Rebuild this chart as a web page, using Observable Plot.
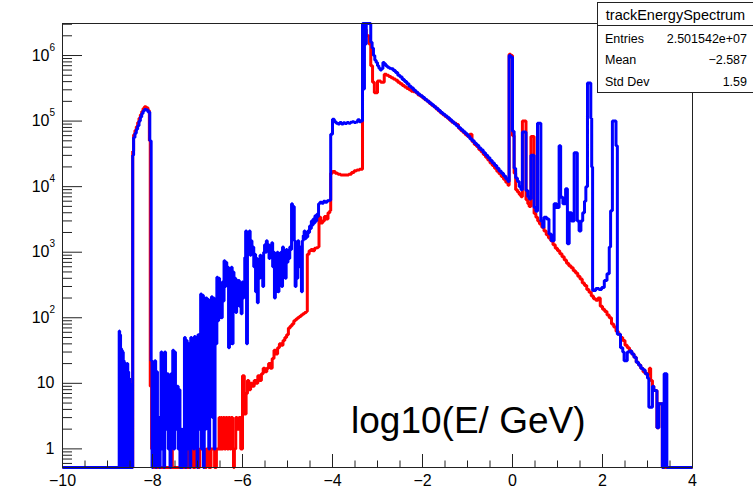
<!DOCTYPE html>
<html><head><meta charset="utf-8">
<script src="https://cdn.jsdelivr.net/npm/d3@7"></script>
<script src="https://cdn.jsdelivr.net/npm/@observablehq/plot@0.6"></script>
<style>
body{margin:0;background:#fff}
#chart{position:relative;width:753px;height:493px;overflow:hidden}
svg{font-family:"Liberation Sans",Arial,Helvetica,sans-serif}
</style>
</head><body><div id="chart"></div>
<script>
// ---- histogram steps: [bin low edge, counts] (step-after) ----
const blueSteps = [
[-10,0],[-8.74,63],[-8.73,0],[-8.72,55],[-8.71,0],[-8.70,34],[-8.69,0],[-8.68,32],[-8.67,0],[-8.66,30],[-8.65,0],
[-8.64,22],[-8.63,0],[-8.62,20],[-8.61,0],[-8.60,20],[-8.59,0],[-8.58,19],[-8.57,0],[-8.56,20],[-8.55,0],
[-8.54,15],[-8.53,0],[-8.52,12],[-8.51,0],[-8.50,10],[-8.49,0],[-8.48,8],[-8.47,0],
[-8.44,3e4],[-8.42,5.6e4],[-8.39,6.5e4],[-8.36,7.5e4],[-8.33,8.5e4],[-8.30,1.0e5],[-8.27,1.15e5],[-8.24,1.3e5],
[-8.21,1.42e5],[-8.18,1.5e5],[-8.14,1.48e5],[-8.10,1.38e5],[-8.06,5e4],[-8.03,22],
[-8.01,0],[-7.99,20],[-7.97,2],[-7.95,22],[-7.93,0],[-7.91,15],[-7.89,1],[-7.87,3],[-7.85,0],[-7.83,2],[-7.81,30],
[-7.79,1],[-7.77,28],[-7.75,0],[-7.73,30],[-7.71,2],[-7.69,4],[-7.67,14],[-7.65,1],[-7.63,12],[-7.61,0],[-7.59,14],
[-7.57,3],[-7.55,32],[-7.53,1],[-7.51,30],[-7.49,2],[-7.47,6],[-7.45,9],[-7.43,1],[-7.41,8],[-7.39,0],[-7.37,2],
[-7.35,0],[-7.33,2],[-7.31,1],[-7.29,50],[-7.27,0],[-7.25,45],[-7.23,1],[-7.21,3],[-7.19,40],[-7.17,0],[-7.15,50],
[-7.13,2],[-7.11,48],[-7.09,1],[-7.07,52],[-7.05,5],[-7.03,50],[-7.01,0],[-6.99,55],[-6.97,2],[-6.95,48],[-6.93,230],
[-6.91,1],[-6.89,220],[-6.87,0],[-6.85,200],[-6.83,2],[-6.81,200],[-6.79,10],[-6.77,190],[-6.75,1],[-6.73,180],
[-6.71,5],[-6.69,210],[-6.67,3],[-6.65,200],[-6.63,1],[-6.61,150],[-6.59,40],[-6.57,415],[-6.55,90],[-6.53,400],
[-6.51,150],[-6.49,300],[-6.47,100],[-6.45,350],[-6.43,180],[-6.41,740],[-6.39,300],[-6.37,700],[-6.35,600],
[-6.33,590],[-6.31,35],[-6.29,550],[-6.27,300],[-6.25,590],[-6.23,40],[-6.21,500],[-6.19,250],[-6.17,400],
[-6.15,120],[-6.13,370],[-6.11,200],[-6.09,370],[-6.07,150],[-6.05,300],[-6.03,115],[-6.01,350],[-5.99,200],
[-5.97,350],[-5.95,830],[-5.93,2100],[-5.91,40],[-5.89,2000],[-5.87,1500],[-5.85,2100],[-5.83,900],[-5.81,1500],
[-5.79,1050],[-5.77,1200],[-5.75,600],[-5.73,930],[-5.71,250],[-5.69,800],[-5.67,170],[-5.65,700],[-5.63,400],
[-5.61,900],[-5.59,500],[-5.57,650],[-5.55,300],[-5.53,1000],[-5.51,1300],[-5.49,1000],[-5.47,1500],[-5.45,1100],
[-5.43,1300],[-5.41,800],[-5.39,1200],[-5.37,1000],[-5.35,1400],[-5.33,600],[-5.31,1000],[-5.29,200],[-5.27,900],
[-5.25,400],[-5.23,1000],[-5.21,250],[-5.19,700],[-5.17,500],[-5.15,1000],[-5.13,300],[-5.11,1200],[-5.09,600],
[-5.07,900],[-5.05,400],[-5.03,1100],[-5.01,700],[-4.99,1000],[-4.97,800],[-4.95,1200],[-4.93,1100],[-4.91,5500],
[-4.89,5000],[-4.85,1500],[-4.83,300],[-4.81,1200],[-4.79,400],[-4.77,1500],[-4.75,600],[-4.73,1200],[-4.71,800],
[-4.69,250],[-4.67,1500],[-4.65,1800],[-4.63,2100],[-4.61,1600],[-4.59,2000],[-4.57,1700],[-4.55,2100],[-4.53,2000],
[-4.51,2500],[-4.49,2300],[-4.47,3000],[-4.45,2600],[-4.43,3200],[-4.41,2800],[-4.39,3600],[-4.37,3000],[-4.35,3800],
[-4.33,3500],[-4.31,5500],[-4.28,5800],[-4.24,5600],[-4.20,6000],[-4.16,5800],[-4.12,6100],[-4.08,6200],
[-4.04,6.3e4],[-4.00,1.07e5],[-3.96,9.8e4],[-3.92,9.3e4],[-3.88,9.0e4],[-3.84,9.5e4],[-3.80,9.0e4],[-3.76,9.4e4],
[-3.72,9.2e4],[-3.68,9.5e4],[-3.64,9.3e4],[-3.60,9.6e4],[-3.56,9.8e4],[-3.52,9.5e4],[-3.48,9.7e4],[-3.44,1.05e5],
[-3.40,9.8e4],[-3.37,1.0e5],
[-3.333,4e6],[-3.31,3.1e5],[-3.29,4e6],[-3.27,1.5e6],[-3.25,4e6],[-3.22,4e6],[-3.18,3.5e6],[-3.15,1.6e6],
[-3.12,1.3e6],[-3.09,1.0e6],[-3.06,8.5e5],[-3.03,7.8e5],[-3.00,7.0e5],[-2.97,6.4e5],[-2.94,6.0e5],[-2.91,6.3e5],
[-2.88,7.8e5],[-2.85,7.5e5],[-2.82,7.0e5],[-2.78,6.6e5],[-2.74,6.4e5],
[-2.70,6.3e5],[-2.65,5.9e5],[-2.60,5.5e5],[-2.55,5.0e5],[-2.50,4.7e5],[-2.45,4.3e5],[-2.40,4.0e5],[-2.35,3.7e5],
[-2.30,3.4e5],[-2.25,3.2e5],[-2.20,2.95e5],[-2.15,2.75e5],[-2.10,2.57e5],[-2.05,2.43e5],[-2.00,2.29e5],[-1.95,2.14e5],
[-1.90,2.0e5],[-1.85,1.88e5],[-1.80,1.78e5],[-1.75,1.66e5],[-1.70,1.55e5],[-1.65,1.45e5],[-1.60,1.35e5],[-1.55,1.27e5],
[-1.50,1.2e5],[-1.45,1.12e5],[-1.40,1.05e5],[-1.35,9.8e4],[-1.30,9.1e4],[-1.25,8.5e4],[-1.20,7.9e4],[-1.15,7.4e4],
[-1.10,6.9e4],[-1.05,6.4e4],[-1.00,5.9e4],[-0.95,5.4e4],[-0.90,5.0e4],[-0.85,4.6e4],[-0.80,4.27e4],[-0.75,3.9e4],
[-0.70,3.63e4],[-0.65,3.3e4],[-0.60,3.0e4],[-0.55,2.75e4],[-0.50,2.5e4],[-0.45,2.3e4],[-0.40,2.1e4],[-0.35,1.9e4],
[-0.30,1.74e4],[-0.25,1.6e4],[-0.20,1.45e4],[-0.15,1.32e4],[-0.10,1.2e4],
[-0.075,1.0e6],[-0.04,9.5e5],[0.0,7e4],[0.036,1.9e4],[0.07,1.35e4],[0.11,1.2e4],[0.15,1.0e4],[0.19,9e3],
[0.22,6.8e4],[0.30,8.7e3],[0.34,7e3],[0.37,6.5e3],[0.41,3.0e4],[0.48,4.8e3],[0.52,4.2e3],[0.555,9.3e4],
[0.63,3.0e3],[0.67,2.4e3],[0.70,3.4e3],[0.76,3.2e3],[0.81,1.9e3],[0.86,1.5e3],[0.925,5.5e3],[0.98,4.8e3],
[1.036,4.2e4],[1.07,6.9e3],[1.12,5.5e3],[1.18,9.3e3],[1.22,1.35e3],[1.26,4e3],[1.31,3e3],[1.37,3.3e4],
[1.44,3e3],[1.48,2.1e3],[1.52,3e3],[1.56,4e3],[1.60,6e3],[1.63,1e4],[1.666,3.8e5],[1.74,1.1e5],[1.76,2e4],
[1.78,260],[1.85,280],[1.92,270],[1.98,290],[2.04,370],[2.10,470],[2.15,1.2e3],[2.18,4.3e3],[2.22,1e5],[2.30,4.2e4],
[2.33,56],[2.40,35],[2.45,30],[2.48,22],[2.55,30],[2.60,31],[2.65,28],[2.70,25],[2.75,21],[2.80,19],[2.85,17],
[2.90,16],[2.95,14],[3.00,12],[3.03,4.3],[3.11,9],[3.14,7.8],[3.21,2.1],[3.25,4.9],[3.33,0],[3.37,14],[3.43,0],[4,0]
];
const redSteps = [
[-10,0],[-8.44,3.5e4],[-8.42,6.2e4],[-8.39,7.2e4],[-8.36,8.2e4],[-8.33,9.5e4],[-8.30,1.1e5],[-8.27,1.25e5],
[-8.24,1.4e5],[-8.21,1.55e5],[-8.18,1.65e5],[-8.14,1.6e5],[-8.10,1.45e5],[-8.07,5e4],[-8.05,9],[-8.02,1],[-7.98,0],
[-7.90,1],[-7.86,0],[-7.60,1],[-7.56,0],[-7.20,1],[-7.17,0],[-7.15,1],[-7.10,0],[-7.05,1],[-7.00,0],[-6.95,1],
[-6.91,3],[-6.88,1],[-6.84,0],[-6.80,1],[-6.75,0],[-6.70,1],[-6.62,0],[-6.58,1],[-6.52,3],[-6.50,1],[-6.48,3],
[-6.46,1],[-6.43,3],[-6.40,1],[-6.37,3],[-6.34,1],[-6.31,3],[-6.28,1],[-6.25,3],[-6.22,1],[-6.20,0],[-6.18,1],
[-6.15,3],[-6.12,2],[-6.08,3],[-6.04,1],[-6.00,13],[-5.96,3.4],[-5.92,7],[-5.89,11],[-5.86,8],[-5.82,10],[-5.78,9],
[-5.74,11],[-5.70,10],[-5.66,13],[-5.62,11],[-5.58,14],[-5.54,17],[-5.50,15],[-5.46,17],[-5.42,20],[-5.38,17],
[-5.34,24],[-5.30,32],[-5.26,28],[-5.22,35],[-5.18,40],[-5.14,38],[-5.10,45],[-5.06,50],[-5.02,55],[-4.98,70],
[-4.94,75],[-4.90,80],[-4.86,90],[-4.82,95],[-4.78,100],[-4.74,105],[-4.70,110],[-4.66,115],[-4.62,120],[-4.58,125],
[-4.56,930],[-4.52,1050],[-4.48,1100],[-4.44,1050],[-4.40,1150],[-4.36,1170],[-4.32,1200],[-4.30,3400],[-4.26,2800],
[-4.22,3000],[-4.18,3500],[-4.14,3200],[-4.10,4000],[-4.06,4300],[-4.04,1.6e4],[-4.00,1.7e4],[-3.94,1.6e4],
[-3.88,1.55e4],[-3.82,1.5e4],[-3.76,1.5e4],[-3.70,1.5e4],[-3.64,1.55e4],[-3.58,1.65e4],[-3.52,1.75e4],[-3.46,1.8e4],
[-3.40,1.85e4],[-3.333,1.5e6],[-3.30,2.5e6],[-3.25,2.0e6],[-3.19,1.5e6],[-3.15,7e5],[-3.11,3.9e5],[-3.07,2.7e5],
[-3.00,4.1e5],[-2.93,3.9e5],[-2.85,5.2e5],[-2.80,5.0e5],[-2.75,4.8e5],[-2.70,4.6e5],[-2.65,4.4e5],[-2.60,4.2e5],
[-2.55,3.9e5],[-2.50,3.7e5],[-2.45,3.5e5],[-2.40,3.3e5],[-2.35,3.15e5],[-2.30,3.0e5],[-2.25,2.85e5],[-2.20,2.8e5],
[-2.15,2.7e5],[-2.10,2.5e5],[-2.05,2.4e5],[-2.00,2.25e5],[-1.95,2.12e5],[-1.90,2.0e5],[-1.85,1.86e5],[-1.80,1.75e5],
[-1.75,1.65e5],[-1.70,1.53e5],[-1.65,1.43e5],[-1.60,1.33e5],[-1.55,1.25e5],[-1.50,1.18e5],[-1.45,1.1e5],[-1.40,1.03e5],
[-1.35,9.6e4],[-1.30,9.3e4],[-1.25,8.9e4],[-1.20,7.8e4],[-1.15,7.2e4],[-1.10,6.7e4],[-1.05,6.2e4],[-1.00,5.8e4],
[-0.95,6.3e4],[-0.90,4.9e4],[-0.85,4.4e4],[-0.80,4.1e4],[-0.75,3.7e4],[-0.70,3.4e4],[-0.65,3.1e4],[-0.60,2.8e4],
[-0.55,2.55e4],[-0.50,2.3e4],[-0.45,2.1e4],[-0.40,1.9e4],[-0.35,1.72e4],[-0.30,1.57e4],[-0.25,1.43e4],[-0.20,1.3e4],
[-0.15,1.17e4],[-0.10,1.05e4],[-0.075,1.05e6],[-0.04,1.0e6],[0.0,6e4],[0.036,1.6e4],[0.07,9e3],[0.11,8.3e3],
[0.15,7.6e3],[0.19,7e3],[0.22,1e5],[0.30,6.3e3],[0.34,5.5e3],[0.37,5.0e3],[0.41,5.8e4],[0.48,3.9e3],[0.52,3.4e3],
[0.56,3.0e3],[0.60,2.7e3],[0.65,2.4e3],[0.70,2.1e3],[0.75,1.85e3],[0.80,1.65e3],[0.85,1.5e3],[0.90,1.3e3],
[0.95,1.15e3],[1.00,1.05e3],[1.05,950],[1.10,850],[1.15,760],[1.20,680],[1.25,620],[1.30,580],[1.35,520],[1.40,480],
[1.45,430],[1.50,390],[1.55,340],[1.60,310],[1.65,270],[1.70,245],[1.75,215],[1.80,195],[1.85,185],[1.90,200],
[1.95,150],[2.00,135],[2.05,125],[2.10,110],[2.15,100],[2.20,80],[2.25,72],[2.30,62],[2.35,56],[2.40,50],[2.45,45],
[2.50,38],[2.55,35],[2.60,31],[2.65,28],[2.70,25],[2.75,21],[2.80,19],[2.85,17],[2.90,15],[2.95,14],[3.00,14],
[3.04,17],[3.07,11],[3.11,9],[3.14,7.8],[3.21,2.1],[3.25,4.9],[3.33,0],[4,0]
];

// ---- axes ----
const xDomain = [-10, 4];
const yDomain = [0.52, 3.08e6];
const xMajor = [-10, -8, -6, -4, -2, 0, 2, 4];
const xMajorLabels = ["\u221210", "\u22128", "\u22126", "\u22124", "\u22122", "0", "2", "4"];
const yMajor = [1, 10, 100, 1e3, 1e4, 1e5, 1e6];
const yLabelBase = ["1", "10", "10", "10", "10", "10", "10"];
const yLabelExp = ["", "", "2", "3", "4", "5", "6"];
const xTitle = "log10(E/ GeV)";
const statsTitle = "trackEnergySpectrum";
const statsNames = ["Entries", "Mean", "Std Dev"];
const statsValues = ["2.501542e+07", "\u22122.587", "1.59"];

const xMinor = d3.range(-10, 4.001, 0.5).filter(v => !xMajor.includes(v));
const yMinor = [];
for (let e = -1; e <= 6; e++) for (let m = 2; m <= 9; m++) {
  const v = m * Math.pow(10, e);
  if (v > yDomain[0] && v < yDomain[1]) yMinor.push(v);
}

const W = 753, H = 493, mL = 62, mR = 61, mT = 23, mB = 26;
const fw = W - mL - mR, fh = H - mT - mB;
const yc = v => Math.min(Math.max(v, yDomain[0]), yDomain[1]);
const font = '"Liberation Sans",Arial,Helvetica,sans-serif';

const yLab = yMajor.map((v, i) => ({v, base: yLabelBase[i], exp: yLabelExp[i]}));
const xLab = xMajor.map((v, i) => ({v, t: xMajorLabels[i]}));

const chart = Plot.plot({
  width: W, height: H,
  marginLeft: mL, marginRight: mR, marginTop: mT, marginBottom: mB,
  style: {fontFamily: font, background: "#fff"},
  x: {domain: xDomain, axis: null},
  y: {type: "log", domain: yDomain, axis: null},
  marks: [
    Plot.line(redSteps, {x: d => d[0], y: d => yc(d[1]), curve: "step-after", stroke: "#ff0000", strokeWidth: 3, strokeLinejoin: "miter", strokeLinecap: "butt"}),
    Plot.line(blueSteps, {x: d => d[0], y: d => yc(d[1]), curve: "step-after", stroke: "#0000ff", strokeWidth: 3, strokeLinejoin: "miter", strokeLinecap: "butt"}),
    Plot.frame({stroke: "#222", strokeWidth: 1}),
    Plot.tickX(xMajor, {x: d => d, stroke: "#222", insetTop: fh - 13}),
    Plot.tickX(xMinor, {x: d => d, stroke: "#222", insetTop: fh - 6.5}),
    Plot.tickY(yMajor, {y: d => d, stroke: "#222", insetRight: fw - 20}),
    Plot.tickY(yMinor, {y: d => d, stroke: "#222", insetRight: fw - 10}),
    Plot.text(xLab, {x: "v", text: "t", frameAnchor: "bottom", dy: 13, lineAnchor: "middle", fontSize: 16, fill: "#000"}),
    Plot.text(yLab.filter(d => d.exp === ""), {y: "v", text: "base", frameAnchor: "left", dx: -8, textAnchor: "end", lineAnchor: "middle", fontSize: 16, fill: "#000"}),
    Plot.text(yLab.filter(d => d.exp !== ""), {y: "v", text: "base", frameAnchor: "left", dx: -13, textAnchor: "end", lineAnchor: "middle", fontSize: 16, fill: "#000"}),
    Plot.text(yLab.filter(d => d.exp !== ""), {y: "v", text: "exp", frameAnchor: "left", dx: -13, dy: -8, textAnchor: "start", lineAnchor: "middle", fontSize: 10, fill: "#000"}),
    Plot.text([xTitle], {text: d => d, frameAnchor: "bottom-right", dx: -107, dy: -35, textAnchor: "end", lineAnchor: "bottom", fontSize: 37, fill: "#000"})
  ]
});
document.getElementById("chart").appendChild(chart);

// ---- statistics box ----
const svg = d3.select(chart);
const bx = 597.5, by = 2.5, bw = 160, bh = 90;
const g = svg.append("g").attr("font-family", font).attr("text-anchor", "start").attr("fill", "#000");
g.append("rect").attr("x", bx).attr("y", by).attr("width", bw).attr("height", bh).attr("fill", "#fff").attr("stroke", "#222");
g.append("line").attr("x1", bx).attr("x2", bx + bw).attr("y1", 25.5).attr("y2", 25.5).attr("stroke", "#222");
g.append("text").attr("x", 675.5).attr("y", 19.5).attr("text-anchor", "middle").attr("font-size", 14.5).text(statsTitle);
statsNames.forEach((n, i) => {
  const yy = 42.5 + i * 21.8;
  g.append("text").attr("x", 605).attr("y", yy).attr("text-anchor", "start").attr("font-size", 12.5).text(n);
  g.append("text").attr("x", 747).attr("y", yy).attr("text-anchor", "end").attr("font-size", 12.5).text(statsValues[i]);
});
</script>
</body></html>
